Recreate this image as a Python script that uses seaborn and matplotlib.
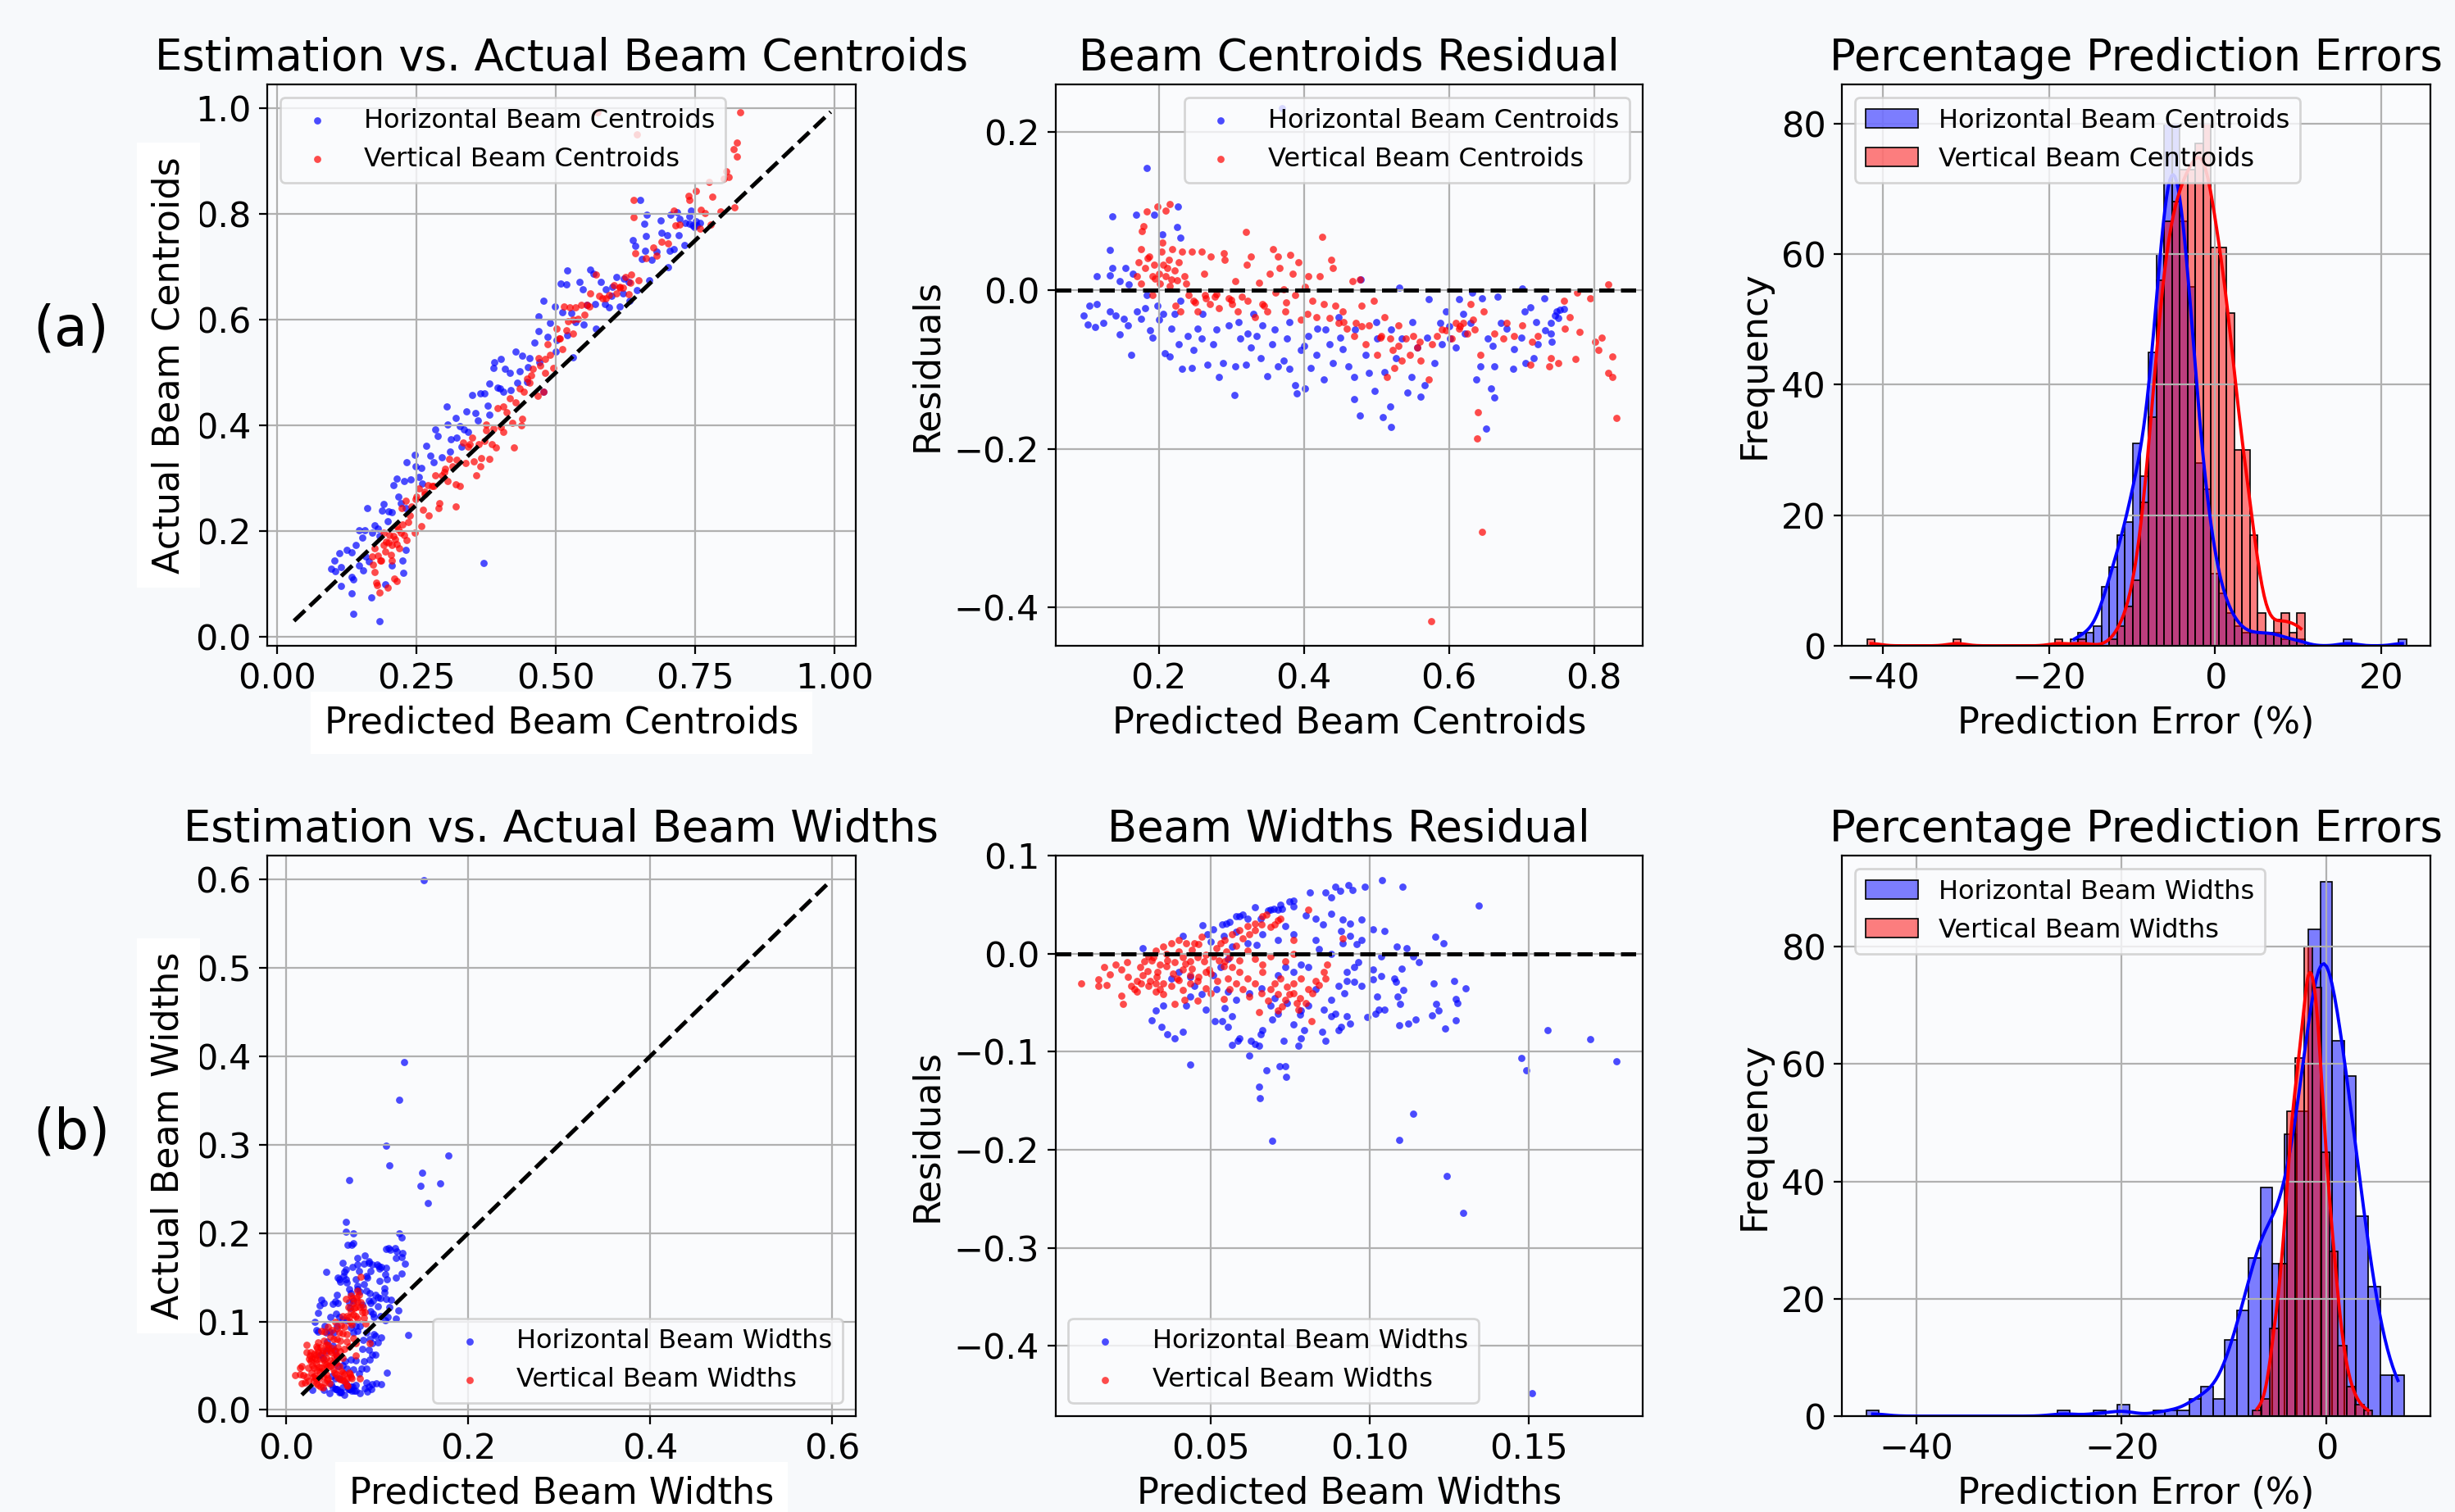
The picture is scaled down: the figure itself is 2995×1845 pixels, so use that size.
import numpy as np
import matplotlib
matplotlib.use("Agg")
import matplotlib.pyplot as plt
import seaborn as sns

W, H = 2995, 1845
DPI = 200

# beam centroids: predicted value and residual (predicted - actual)
CENT_H_PRED = [0.184, 0.136, 0.133, 0.169, 0.194, 0.226, 0.205, 0.225, 0.230, 0.114, 0.133, 0.136, 0.154, 0.146,
               0.159, 0.164, 0.096, 0.104, 0.114, 0.102, 0.112, 0.124, 0.133, 0.141, 0.146, 0.152, 0.157, 0.162,
               0.170, 0.175, 0.181, 0.184, 0.188, 0.191, 0.198, 0.206, 0.200, 0.208, 0.215, 0.217, 0.222, 0.227,
               0.232, 0.230, 0.246, 0.240, 0.248, 0.254, 0.259, 0.267, 0.275, 0.283, 0.288, 0.296, 0.304, 0.306,
               0.312, 0.320, 0.322, 0.327, 0.335, 0.340, 0.343, 0.350, 0.356, 0.364, 0.372, 0.377, 0.380, 0.388,
               0.390, 0.396, 0.401, 0.406, 0.409, 0.417, 0.419, 0.427, 0.435, 0.440, 0.448, 0.453, 0.461, 0.469,
               0.469, 0.478, 0.477, 0.485, 0.490, 0.498, 0.501, 0.509, 0.511, 0.519, 0.520, 0.527, 0.531, 0.535,
               0.543, 0.548, 0.556, 0.561, 0.567, 0.572, 0.580, 0.588, 0.590, 0.596, 0.601, 0.609, 0.614, 0.622,
               0.630, 0.632, 0.638, 0.643, 0.646, 0.651, 0.654, 0.658, 0.662, 0.663, 0.667, 0.672, 0.680, 0.688,
               0.690, 0.701, 0.704, 0.706, 0.712, 0.717, 0.722, 0.731, 0.732, 0.740, 0.742, 0.746, 0.748, 0.751,
               0.753, 0.759, 0.370, 0.260, 0.280, 0.310, 0.330, 0.360, 0.380, 0.400, 0.430, 0.450, 0.470, 0.500,
               0.520, 0.550, 0.570, 0.600, 0.620, 0.660, 0.700, 0.720, 0.740]
CENT_H_RES = [0.154, 0.093, 0.051, 0.095, 0.095, 0.105, 0.070, 0.080, 0.066, 0.018, 0.019, 0.028, 0.028, 0.011,
              0.007, 0.021, -0.032, -0.020, -0.018, -0.043, -0.046, -0.041, -0.027, -0.032, -0.056, -0.036, -0.044,
              -0.082, -0.027, -0.036, -0.023, -0.006, -0.051, -0.060, -0.020, -0.030, -0.037, -0.079, -0.084,
              -0.048, -0.030, -0.068, -0.099, -0.013, -0.098, -0.058, -0.075, -0.048, -0.061, -0.094, -0.068,
              -0.110, -0.092, -0.044, -0.132, -0.096, -0.061, -0.094, -0.055, -0.072, -0.058, -0.086, -0.044,
              -0.108, -0.068, -0.096, -0.089, -0.061, -0.099, -0.120, -0.130, -0.075, -0.124, -0.058, -0.098,
              -0.082, -0.048, -0.113, -0.068, -0.092, -0.034, -0.074, -0.096, -0.110, -0.137, 0.014, -0.158,
              -0.082, -0.104, -0.127, -0.061, -0.160, -0.103, -0.147, -0.173, -0.086, 0.003, -0.061, -0.129,
              -0.110, -0.072, -0.134, -0.120, -0.011, -0.092, -0.041, -0.068, -0.027, -0.061, -0.072, -0.011,
              -0.055, -0.041, -0.003, -0.113, -0.096, -0.010, -0.175, -0.061, -0.124, -0.096, -0.135, -0.008,
              -0.041, -0.048, -0.099, -0.074, 0.002, -0.027, -0.092, -0.022, -0.086, -0.068, -0.010, -0.051,
              -0.041, -0.065, -0.032, -0.027, -0.035, -0.025, -0.024, 0.230, -0.030, -0.050, -0.040, -0.030,
              -0.050, -0.040, -0.070, -0.050, -0.060, -0.050, -0.040, -0.050, -0.040, -0.060, -0.045, -0.030,
              -0.070, -0.060, -0.040, -0.055]
CENT_V_PRED = [0.215, 0.198, 0.210, 0.183, 0.179, 0.177, 0.175, 0.172, 0.170, 0.175, 0.181, 0.187, 0.191, 0.194,
               0.200, 0.201, 0.204, 0.206, 0.209, 0.212, 0.214, 0.217, 0.219, 0.222, 0.227, 0.232, 0.235, 0.238,
               0.191, 0.223, 0.230, 0.241, 0.246, 0.248, 0.254, 0.259, 0.262, 0.264, 0.270, 0.272, 0.277, 0.283,
               0.290, 0.291, 0.296, 0.301, 0.306, 0.309, 0.320, 0.321, 0.322, 0.327, 0.333, 0.338, 0.343, 0.350,
               0.353, 0.357, 0.361, 0.364, 0.366, 0.372, 0.374, 0.381, 0.385, 0.388, 0.393, 0.396, 0.401, 0.406,
               0.412, 0.417, 0.422, 0.425, 0.427, 0.438, 0.440, 0.443, 0.448, 0.453, 0.459, 0.467, 0.469, 0.472,
               0.477, 0.480, 0.485, 0.490, 0.496, 0.501, 0.507, 0.511, 0.515, 0.519, 0.522, 0.525, 0.530, 0.535,
               0.540, 0.546, 0.551, 0.556, 0.561, 0.572, 0.577, 0.583, 0.596, 0.604, 0.609, 0.614, 0.620, 0.625,
               0.630, 0.633, 0.639, 0.640, 0.643, 0.648, 0.662, 0.675, 0.680, 0.690, 0.701, 0.712, 0.714, 0.722,
               0.738, 0.740, 0.751, 0.759, 0.760, 0.767, 0.774, 0.780, 0.777, 0.795, 0.801, 0.806, 0.810, 0.820,
               0.819, 0.825, 0.825, 0.831, 0.645, 0.575, 0.185, 0.195, 0.205, 0.215, 0.225, 0.250, 0.265, 0.280,
               0.300, 0.315, 0.345, 0.375, 0.405, 0.435, 0.455, 0.480, 0.505, 0.530, 0.560, 0.590, 0.615, 0.635]
CENT_V_RES = [0.109, 0.105, 0.100, 0.099, 0.081, 0.075, 0.052, 0.035, 0.018, 0.008, 0.028, 0.042, 0.018, 0.032,
              0.021, 0.008, 0.049, 0.032, 0.018, 0.028, 0.038, 0.014, 0.052, 0.025, 0.035, 0.049, 0.018, 0.008,
              -0.006, -0.020, -0.027, -0.006, 0.049, -0.013, -0.027, 0.049, 0.021, -0.006, -0.017, 0.042, -0.008,
              -0.023, 0.047, 0.038, -0.010, -0.017, 0.011, -0.027, 0.073, 0.032, -0.013, 0.042, -0.034, 0.009,
              -0.017, -0.027, 0.021, 0.052, -0.003, 0.042, 0.028, 0.001, -0.027, 0.044, 0.021, -0.006, 0.035,
              -0.037, 0.004, 0.018, -0.013, -0.034, 0.018, 0.067, -0.017, 0.038, 0.028, -0.020, -0.041, -0.027,
              -0.048, 0.011, -0.058, -0.041, 0.014, -0.020, -0.068, -0.044, -0.013, -0.082, -0.058, -0.034,
              -0.110, -0.061, -0.075, -0.098, -0.044, -0.089, -0.061, -0.082, -0.058, -0.072, -0.089, -0.113,
              -0.068, -0.058, -0.051, -0.061, -0.041, -0.048, -0.041, -0.055, -0.018, -0.037, -0.187, -0.154,
              -0.082, -0.027, -0.055, -0.061, -0.041, -0.058, -0.044, -0.094, -0.065, -0.058, -0.096, -0.086,
              -0.092, -0.013, -0.048, -0.034, -0.087, -0.053, -0.003, -0.010, -0.065, -0.075, -0.060, 0.007,
              -0.104, -0.084, -0.110, -0.161, -0.305, -0.418, 0.040, 0.015, 0.060, 0.005, 0.012, -0.015, -0.010,
              -0.005, -0.012, -0.008, -0.020, -0.015, -0.030, -0.035, -0.040, -0.045, -0.060, -0.070, -0.065,
              -0.050, -0.045, -0.050]

# beam widths: predicted value and residual (predicted - actual)
WIDTH_H_PRED = [0.1039, 0.1104, 0.1342, 0.0985, 0.0933, 0.0945, 0.0891, 0.0906, 0.0861, 0.0879, 0.0811, 0.0747,
                0.0759, 0.0723, 0.0711, 0.0699, 0.0687, 0.0657, 0.0615, 0.0591, 0.0579, 0.0549, 0.0537, 0.0475,
                0.0507, 0.0489, 0.0411, 0.0285, 0.0799, 0.0829, 0.0853, 0.0879, 0.0915, 0.0939, 0.0909, 0.0939,
                0.0975, 0.1011, 0.1047, 0.0975, 0.0915, 0.0831, 0.0735, 0.0759, 0.0711, 0.0663, 0.0645, 0.0615,
                0.1085, 0.1115, 0.1207, 0.1233, 0.1035, 0.1137, 0.1155, 0.0567, 0.0555, 0.0531, 0.0507, 0.0963,
                0.0951, 0.0927, 0.1011, 0.1011, 0.1035, 0.1077, 0.1083, 0.1101, 0.1107, 0.1089, 0.1095, 0.1023,
                0.1029, 0.1047, 0.0993, 0.1017, 0.1201, 0.1209, 0.1217, 0.1197, 0.1265, 0.1271, 0.1275, 0.1301,
                0.1271, 0.1237, 0.1145, 0.1121, 0.1093, 0.0939, 0.0927, 0.0909, 0.0891, 0.0879, 0.0855, 0.0861,
                0.0851, 0.0903, 0.0879, 0.0903, 0.0927, 0.0951, 0.0975, 0.0831, 0.0807, 0.0783, 0.0795, 0.0783,
                0.0777, 0.0759, 0.0729, 0.0711, 0.0693, 0.0687, 0.0663, 0.0657, 0.0651, 0.0639, 0.0627, 0.0621,
                0.0591, 0.0585, 0.0567, 0.0555, 0.0567, 0.0537, 0.0513, 0.0543, 0.0579, 0.0555, 0.0519, 0.0483,
                0.0471, 0.0435, 0.0423, 0.0411, 0.0387, 0.0363, 0.0345, 0.0315, 0.0327, 0.0351, 0.0447, 0.0435,
                0.0399, 0.0375, 0.0711, 0.0735, 0.0759, 0.0783, 0.0807, 0.0435, 0.0675, 0.0717, 0.0735, 0.0738,
                0.0651, 0.0654, 0.0693, 0.1137, 0.1093, 0.1242, 0.1560, 0.1693, 0.1777, 0.1476, 0.1492, 0.1295,
                0.1510, 0.0560, 0.0600, 0.0640, 0.0680, 0.0720, 0.0760, 0.0620, 0.0660, 0.0700, 0.0740, 0.0780,
                0.0840, 0.0880, 0.0920, 0.0960, 0.0500, 0.0540, 0.0580]
WIDTH_H_RES = [0.075, 0.068, 0.049, 0.068, 0.070, 0.065, 0.068, 0.064, 0.062, 0.057, 0.062, 0.053, 0.054, 0.046,
               0.045, 0.046, 0.045, 0.036, 0.036, 0.038, 0.038, 0.031, 0.030, 0.029, 0.025, 0.020, 0.018, 0.006,
               0.039, 0.036, 0.030, 0.041, 0.035, 0.031, 0.023, 0.018, 0.035, 0.025, 0.023, 0.014, 0.011, 0.014,
               0.028, 0.020, 0.014, 0.020, 0.009, 0.011, 0.007, 0.006, 0.017, 0.011, -0.003, -0.003, -0.009, 0.007,
               -0.005, -0.014, -0.022, -0.009, -0.014, -0.019, -0.016, -0.026, -0.023, -0.025, -0.029, -0.015,
               -0.037, -0.044, -0.051, -0.044, -0.057, -0.057, -0.065, -0.061, -0.030, -0.051, -0.058, -0.063,
               -0.028, -0.046, -0.050, -0.035, -0.068, -0.076, -0.067, -0.071, -0.073, -0.071, -0.064, -0.075,
               -0.061, -0.064, -0.057, -0.089, -0.080, -0.078, -0.047, -0.033, -0.028, -0.029, -0.033, -0.036,
               -0.053, -0.058, -0.078, -0.086, -0.094, -0.072, -0.089, -0.061, -0.067, -0.053, -0.078, -0.082,
               -0.094, -0.092, -0.089, -0.104, -0.086, -0.089, -0.093, -0.075, -0.064, -0.069, -0.069, -0.055,
               -0.047, -0.039, -0.036, -0.057, -0.041, -0.044, -0.053, -0.080, -0.086, -0.082, -0.075, -0.068,
               -0.058, -0.053, -0.033, -0.024, -0.019, -0.025, -0.022, -0.014, -0.019, -0.011, -0.014, -0.113,
               -0.119, -0.115, -0.115, -0.126, -0.136, -0.147, -0.191, -0.163, -0.190, -0.227, -0.078, -0.087,
               -0.110, -0.106, -0.119, -0.264, -0.448, 0.032, 0.040, 0.047, 0.044, 0.050, 0.048, -0.040, -0.035,
               -0.045, -0.050, -0.062, 0.005, 0.000, -0.040, 0.010, 0.012, 0.018, 0.022]
WIDTH_V_PRED = [0.0093, 0.0147, 0.0147, 0.0171, 0.0165, 0.0183, 0.0201, 0.0219, 0.0237, 0.0219, 0.0225, 0.0249,
                0.0267, 0.0279, 0.0291, 0.0303, 0.0327, 0.0351, 0.0375, 0.0399, 0.0423, 0.0447, 0.0471, 0.0285,
                0.0309, 0.0333, 0.0351, 0.0375, 0.0393, 0.0411, 0.0435, 0.0459, 0.0483, 0.0303, 0.0327, 0.0351,
                0.0387, 0.0417, 0.0459, 0.0483, 0.0315, 0.0339, 0.0363, 0.0387, 0.0411, 0.0435, 0.0459, 0.0483,
                0.0507, 0.0519, 0.0531, 0.0543, 0.0567, 0.0591, 0.0615, 0.0639, 0.0663, 0.0675, 0.0711, 0.0687,
                0.0759, 0.0807, 0.0543, 0.0567, 0.0591, 0.0615, 0.0639, 0.0663, 0.0687, 0.0711, 0.0735, 0.0711,
                0.0759, 0.0783, 0.0807, 0.0831, 0.0855, 0.0867, 0.0771, 0.0747, 0.0723, 0.0777, 0.0817, 0.0651,
                0.0555, 0.0495, 0.0525, 0.0549, 0.0915, 0.0615, 0.0639, 0.0663, 0.0687, 0.0735, 0.0759, 0.0591,
                0.0435, 0.0327, 0.0267, 0.0411, 0.030, 0.033, 0.036, 0.038, 0.040, 0.042, 0.044, 0.046, 0.048,
                0.050, 0.052, 0.054, 0.056, 0.058, 0.060, 0.062, 0.064, 0.058, 0.060, 0.062, 0.066, 0.068, 0.070,
                0.072, 0.074, 0.076, 0.078, 0.080, 0.082, 0.084, 0.086, 0.070, 0.072, 0.066, 0.044, 0.046, 0.040,
                0.036, 0.032, 0.028, 0.026, 0.024, 0.034, 0.050, 0.054, 0.056]
WIDTH_V_RES = [-0.030, -0.026, -0.033, -0.032, -0.014, -0.021, -0.011, -0.016, -0.009, -0.043, -0.051, -0.033,
               -0.028, -0.014, -0.008, -0.003, 0.003, 0.007, 0.011, 0.014, 0.011, 0.011, 0.017, -0.022, -0.028,
               -0.019, -0.030, -0.033, -0.025, -0.016, -0.022, -0.028, -0.019, -0.033, -0.039, -0.041, -0.051,
               -0.047, -0.048, -0.035, -0.007, -0.011, -0.007, -0.009, -0.004, -0.008, -0.004, -0.001, -0.003,
               0.006, 0.011, 0.014, 0.020, 0.024, 0.028, 0.031, 0.038, 0.040, 0.034, 0.027, 0.014, 0.045, -0.008,
               -0.014, -0.019, -0.025, -0.030, -0.019, -0.036, -0.041, -0.047, -0.058, -0.030, -0.025, -0.036,
               -0.028, -0.019, -0.011, -0.050, -0.041, -0.054, -0.057, -0.069, -0.060, -0.025, -0.016, -0.007,
               0.002, 0.016, 0.003, -0.005, -0.011, -0.003, -0.008, 0.000, -0.007, -0.030, -0.030, -0.039, -0.037,
               -0.018, -0.024, -0.013, -0.020, -0.027, -0.010, -0.015, -0.024, -0.008, -0.020, -0.028, -0.013,
               -0.004, 0.008, 0.016, 0.020, 0.024, -0.030, -0.036, -0.044, -0.040, -0.048, -0.030, -0.025, -0.034,
               -0.040, -0.045, -0.050, -0.040, -0.032, -0.025, 0.030, 0.036, 0.030, 0.004, 0.010, 0.002, 0.000,
               -0.004, -0.030, -0.036, -0.024, -0.036, -0.040, -0.046, -0.036]

# percentage prediction error histograms: bin start, bin width and counts per bin
CENT_BIN_START = -41.86
CENT_BIN_WIDTH = 0.94
CENT_H_COUNTS = [0] * 26 + [1, 2, 2, 3, 9, 12, 17, 19, 31, 26, 45, 60, 80, 80, 65, 55, 28, 24, 11, 8, 5, 3,
                            2, 2, 2, 2, 2, 1, 1, 1, 0, 0, 0, 0, 0, 1, 0, 0, 0, 0, 0, 0, 1]
CENT_V_COUNTS = ([1] + [0] * 10 + [1] + [0] * 12 + [1, 0, 0, 1, 0, 0, 0, 1, 3, 6, 10, 22, 35, 56, 65, 68,
                                                    73, 73, 77, 80, 61, 61, 51, 30, 30, 17, 5, 2, 4, 5, 2, 5]
                 + [0] * 13)

WIDTH_H_BIN_START = -44.88
WIDTH_H_BIN_WIDTH = 1.165
WIDTH_H_COUNTS = ([1] + [0] * 15 + [1, 0, 0, 1, 0, 2, 0, 0, 1, 1, 1, 3, 5, 3, 13, 18, 27, 39, 26, 48, 52, 83,
                                    91, 64, 58, 34, 22, 7, 7])
WIDTH_V_BIN_START = -7.2
WIDTH_V_BIN_WIDTH = 0.833
WIDTH_V_COUNTS = [1, 3, 15, 26, 52, 61, 80, 73, 45, 28, 12, 5, 2, 1]

plt.rcParams.update({
    "font.family": ["DejaVu Sans"],
    "font.size": 15.5,
    "axes.titlesize": 19,
    "axes.labelsize": 16,
    "xtick.labelsize": 15.5,
    "ytick.labelsize": 15.5,
    "legend.fontsize": 11.5,
    "axes.grid": True,
    "grid.color": "#b0b0b0",
    "grid.linewidth": 0.8,
    "axes.facecolor": "#fafbfd",
    "figure.facecolor": "#f7f9fb",
})

fig = plt.figure(figsize=(W / DPI, H / DPI), dpi=DPI)


def add_ax(left, top, right, bottom):
    return fig.add_axes([left / W, 1 - bottom / H, (right - left) / W, (bottom - top) / H])


def hist_samples(start, width, counts):
    counts = np.array(counts)
    edges = start + width * np.arange(len(counts) + 1)
    centers = (edges[:-1] + edges[1:]) / 2
    return np.repeat(centers, counts), edges


white_box = dict(facecolor="white", edgecolor="none", pad=6)
DOT = 10

rows = [
    dict(name="Centroids", hp=CENT_H_PRED, hr=CENT_H_RES, vp=CENT_V_PRED, vr=CENT_V_RES,
         top=103, bottom=788, lim1=((-0.018, 1.038), (-0.017, 1.045)), lim2=((0.0575, 0.867), (-0.4485, 0.2595)),
         lim3=((-44.9, 25.9), (0, 86)), loc1="upper left", loc2="upper right", tag="(a)", tag_y=402),
    dict(name="Widths", hp=WIDTH_H_PRED, hr=WIDTH_H_RES, vp=WIDTH_V_PRED, vr=WIDTH_V_RES,
         top=1044, bottom=1728, lim1=((-0.021, 0.626), (-0.007, 0.627)), lim2=((0.0011, 0.1859), (-0.4715, 0.100)),
         lim3=((-47.3, 10.13), (0, 95.5)), loc1="lower right", loc2="lower left", tag="(b)", tag_y=1383),
]

for r in rows:
    name = r["name"]
    hp, hr = np.array(r["hp"]), np.array(r["hr"])
    vp, vr = np.array(r["vp"]), np.array(r["vr"])
    ha, va = hp - hr, vp - vr
    lab_h = "Horizontal Beam " + name
    lab_v = "Vertical Beam " + name

    # estimation vs actual
    ax1 = add_ax(326, r["top"], 1044, r["bottom"])
    sns.scatterplot(x=hp, y=ha, ax=ax1, color="blue", s=DOT, alpha=0.7, linewidth=0, label=lab_h)
    sns.scatterplot(x=vp, y=va, ax=ax1, color="red", s=DOT, alpha=0.7, linewidth=0, label=lab_v)
    lo = min(ha.min(), va.min())
    hi = max(ha.max(), va.max())
    ax1.plot([lo, hi], [lo, hi], "k--", lw=1.8)
    ax1.set_xlim(*r["lim1"][0])
    ax1.set_ylim(*r["lim1"][1])
    ax1.set_title("Estimation vs. Actual Beam " + name)
    ax1.set_xlabel("Predicted Beam " + name, bbox=white_box)
    ax1.set_ylabel("Actual Beam " + name, bbox=white_box)
    ax1.legend(loc=r["loc1"])

    # residuals
    ax2 = add_ax(1287.5, r["top"], 2004, r["bottom"])
    sns.scatterplot(x=hp, y=hr, ax=ax2, color="blue", s=DOT, alpha=0.7, linewidth=0, label=lab_h)
    sns.scatterplot(x=vp, y=vr, ax=ax2, color="red", s=DOT, alpha=0.7, linewidth=0, label=lab_v)
    ax2.axhline(0, color="black", linestyle="--", lw=1.8)
    ax2.set_xlim(*r["lim2"][0])
    ax2.set_ylim(*r["lim2"][1])
    ax2.set_title("Beam " + name + " Residual")
    ax2.set_xlabel("Predicted Beam " + name)
    ax2.set_ylabel("Residuals")
    ax2.legend(loc=r["loc2"])
    if name == "Widths":
        ax2.set_xticks([0.05, 0.10, 0.15])
        ax2.set_yticks([0.1, 0.0, -0.1, -0.2, -0.3, -0.4])

    # percentage errors
    ax3 = add_ax(2247, r["top"], 2965, r["bottom"])
    if name == "Centroids":
        hs, he = hist_samples(CENT_BIN_START, CENT_BIN_WIDTH, CENT_H_COUNTS)
        vs, ve = hist_samples(CENT_BIN_START, CENT_BIN_WIDTH, CENT_V_COUNTS)
    else:
        hs, he = hist_samples(WIDTH_H_BIN_START, WIDTH_H_BIN_WIDTH, WIDTH_H_COUNTS)
        vs, ve = hist_samples(WIDTH_V_BIN_START, WIDTH_V_BIN_WIDTH, WIDTH_V_COUNTS)
    sns.histplot(hs, bins=he, kde=True, ax=ax3, color="blue", alpha=0.5, edgecolor="black",
                 linewidth=0.6, line_kws={"linewidth": 1.4}, label=lab_h)
    sns.histplot(vs, bins=ve, kde=True, ax=ax3, color="red", alpha=0.5, edgecolor="black",
                 linewidth=0.6, line_kws={"linewidth": 1.4}, label=lab_v)
    ax3.set_xlim(*r["lim3"][0])
    ax3.set_ylim(*r["lim3"][1])
    ax3.set_title("Percentage Prediction Errors")
    ax3.set_xlabel("Prediction Error (%)")
    ax3.set_ylabel("Frequency")
    ax3.legend(loc="upper left")

    fig.text(87 / W, 1 - r["tag_y"] / H, r["tag"], fontsize=24, ha="center", va="center")

fig.savefig("out.png", dpi=DPI)
